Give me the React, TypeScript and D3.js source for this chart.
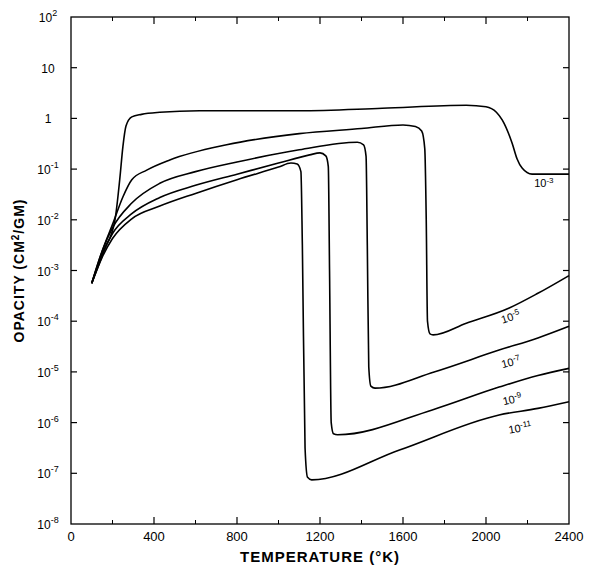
import React from "react";
import * as d3 from "d3";

const xTicks = [0, 400, 800, 1200, 1600, 2000, 2400];
const yExps = [2, 1, 0, -1, -2, -3, -4, -5, -6, -7, -8];

// [T, log10(opacity)]
const c3: [number, number][] = [[100,-3.25],[160,-2.6],[212,-2.0],[235,-1.2],[250,-0.56],[265,-0.15],[293,0.03],[340,0.08],[428,0.12],[620,0.15],[1100,0.15],[1500,0.2],[1905,0.26],[2000,0.23],[2050,0.12],[2078,-0.03],[2126,-0.49],[2150,-0.8],[2174,-0.98],[2222,-1.1],[2300,-1.1],[2400,-1.1]];
const c5: [number, number][] = [[100,-3.25],[150,-2.62],[203,-2.06],[250,-1.55],[293,-1.21],[365,-1.02],[476,-0.82],[750,-0.52],[1100,-0.3],[1400,-0.2],[1600,-0.13],[1660,-0.16],[1690,-0.25],[1705,-0.6],[1712,-2],[1718,-4.0],[1730,-4.25],[1745,-4.27],[1905,-4.04],[2112,-3.74],[2250,-3.45],[2400,-3.1]];
const c7: [number, number][] = [[100,-3.25],[150,-2.62],[200,-2.16],[293,-1.67],[428,-1.28],[600,-1.05],[800,-0.86],[1100,-0.62],[1380,-0.47],[1410,-0.52],[1422,-0.75],[1428,-2.5],[1435,-4.9],[1445,-5.28],[1465,-5.32],[1750,-5.0],[2063,-4.57],[2250,-4.33],[2400,-4.1]];
const c9: [number, number][] = [[100,-3.25],[150,-2.68],[200,-2.27],[293,-1.88],[428,-1.56],[600,-1.32],[800,-1.1],[1000,-0.88],[1150,-0.72],[1200,-0.68],[1228,-0.74],[1240,-0.95],[1246,-3],[1254,-6.0],[1265,-6.22],[1285,-6.24],[1741,-5.75],[2063,-5.3],[2250,-5.07],[2400,-4.93]];
const c11: [number, number][] = [[100,-3.25],[150,-2.74],[200,-2.37],[293,-1.98],[428,-1.73],[600,-1.48],[800,-1.21],[1000,-0.96],[1060,-0.88],[1090,-0.9],[1108,-1.05],[1115,-2.5],[1128,-6.5],[1140,-7.08],[1160,-7.13],[1583,-6.54],[2063,-5.85],[2250,-5.72],[2400,-5.59]];
const series = [c3, c5, c7, c9, c11];
const curveLabels = [
  { exp: "3", T: 2232, v: -1.36, rot: 0 },
  { exp: "5", T: 2080, v: -4.05, rot: -18 },
  { exp: "7", T: 2080, v: -4.93, rot: -15 },
  { exp: "9", T: 2085, v: -5.66, rot: -13 },
  { exp: "11", T: 2112, v: -6.22, rot: -10 },
];

export default function App() {
  const L = 71, R = 569, T0 = 17, B = 524;
  const x = d3.scaleLinear().domain([0, 2400]).range([L, R]);
  const y = d3.scaleLinear().domain([2, -8]).range([T0, B]);
  const line = d3.line<[number, number]>().x(d => x(d[0])).y(d => y(d[1])).curve(d3.curveMonotoneX);
  const minor = d3.range(200, 2400, 400);
  const font = "'Liberation Sans', Arial, sans-serif";
  return (
    <svg width={599} height={569} style={{ position: "absolute", left: 0, top: 0, background: "#fff" }} fontFamily={font}>
      <rect x={L} y={T0} width={R - L} height={B - T0} fill="none" stroke="#000" strokeWidth={1.3} />
      {xTicks.slice(1, -1).map(t => (
        <g key={t}>
          <line x1={x(t)} x2={x(t)} y1={B} y2={B - 7} stroke="#000" strokeWidth={1.2} />
          <line x1={x(t)} x2={x(t)} y1={T0} y2={T0 + 7} stroke="#000" strokeWidth={1.2} />
        </g>
      ))}
      {minor.map(t => (
        <g key={"m" + t}>
          <line x1={x(t)} x2={x(t)} y1={B} y2={B - 4} stroke="#000" />
          <line x1={x(t)} x2={x(t)} y1={T0} y2={T0 + 4} stroke="#000" />
        </g>
      ))}
      {yExps.slice(1, -1).map(e => (
        <g key={e}>
          <line x1={L} x2={L + 6} y1={y(e)} y2={y(e)} stroke="#000" strokeWidth={1.2} />
          <line x1={R} x2={R - 6} y1={y(e)} y2={y(e)} stroke="#000" strokeWidth={1.2} />
        </g>
      ))}
      {xTicks.map(t => (
        <text key={t} x={x(t)} y={541} textAnchor="middle" fontSize={13}>{t}</text>
      ))}
      {yExps.map(e => (
        <text key={e} x={48} y={y(e) + 5} textAnchor="middle" fontSize={12}>
          {e === 0 ? "1" : e === 1 ? "10" : <>10<tspan dy={-6} fontSize={9}>{e > 0 ? e : "-" + -e}</tspan></>}
        </text>
      ))}
      {series.map((s, i) => (
        <path key={i} d={line(s) || ""} fill="none" stroke="#000" strokeWidth={1.6} />
      ))}
      {curveLabels.map(l => (
        <text key={l.exp} transform={`translate(${x(l.T)},${y(l.v)}) rotate(${l.rot})`} fontSize={11}>
          10<tspan dy={-4} fontSize={8}>-{l.exp}</tspan>
        </text>
      ))}
      <text x={(L + R) / 2} y={562} textAnchor="middle" fontSize={15} fontWeight="bold" letterSpacing={1}>TEMPERATURE (°K)</text>
      <text transform={`translate(24,${(T0 + B) / 2}) rotate(-90)`} textAnchor="middle" fontSize={14} fontWeight="bold" letterSpacing={1}>
        OPACITY (CM<tspan dy={-5} fontSize={10}>2</tspan><tspan dy={5}>/GM)</tspan>
      </text>
    </svg>
  );
}
